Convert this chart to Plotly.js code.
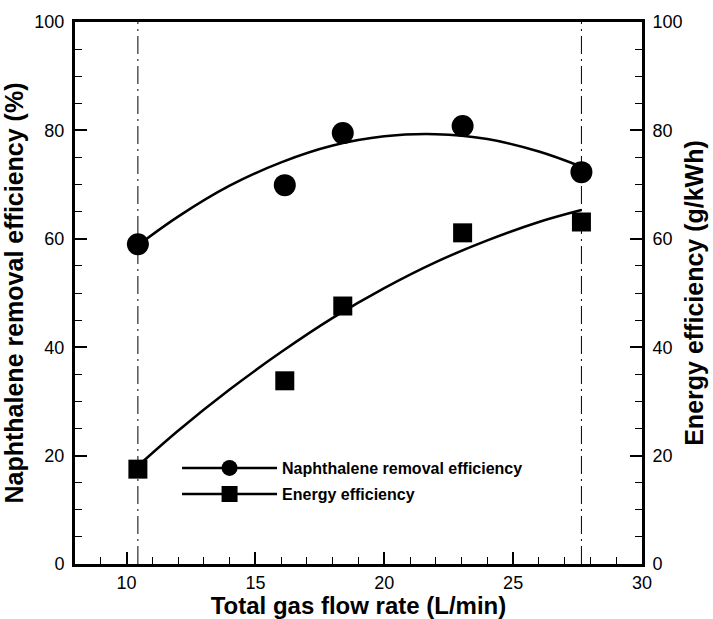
<!DOCTYPE html>
<html>
<head>
<meta charset="utf-8">
<script src="https://cdn.plot.ly/plotly-3.0.1.min.js"></script>
<style>html,body{margin:0;padding:0;background:#fff;}#chart{width:713px;height:619px;}</style>
</head>
<body>
<div id="chart"></div>
<script>
// Measured data points
var flowRate = [10.44, 16.14, 18.39, 23.04, 27.65];
var naphRemoval = [59.0, 69.9, 79.5, 80.8, 72.3];
var energyEff = [17.5, 33.8, 47.6, 61.1, 63.1];

// Fitted trend curves
var fitX = [10.44, 12.0, 14.0, 16.0, 18.0, 20.0, 22.0, 24.0, 26.0, 27.65];
var naphFitY = [58.8, 64.1, 69.8, 74.1, 77.2, 78.9, 79.3, 78.4, 76.1, 73.3];
var energyFitY = [18.1, 24.6, 32.2, 39.1, 45.4, 50.9, 55.7, 59.7, 63.1, 65.3];

// Reference lines at first and last flow rates
var refLineY = [0, 100];

var seriesNames = ['Naphthalene removal efficiency', 'Energy efficiency'];
var xTitle = 'Total gas flow rate (L/min)';
var yTitle = 'Naphthalene removal efficiency (%)';
var y2Title = 'Energy efficiency (g/kWh)';

var black = '#000000';
var dashPattern = '18px,5px,2px,5px';
var first = flowRate[0], last = flowRate[flowRate.length - 1];

var traces = [
  {x: [first, first], y: refLineY, mode: 'lines', line: {color: black, width: 1, dash: dashPattern}, showlegend: false, hoverinfo: 'skip'},
  {x: [last, last], y: refLineY, mode: 'lines', line: {color: black, width: 1, dash: dashPattern}, showlegend: false, hoverinfo: 'skip'},
  {x: fitX, y: naphFitY, mode: 'lines', line: {color: black, width: 2.5, shape: 'spline'}, showlegend: false},
  {x: fitX, y: energyFitY, mode: 'lines', yaxis: 'y2', line: {color: black, width: 2.5, shape: 'spline'}, showlegend: false},
  {x: flowRate, y: naphRemoval, mode: 'markers', marker: {symbol: 'circle', size: 22, color: black}, showlegend: false},
  {x: flowRate, y: energyEff, mode: 'markers', yaxis: 'y2', marker: {symbol: 'square', size: 19, color: black}, showlegend: false},
  {x: [null], y: [null], name: seriesNames[0], mode: 'lines+markers', legend: 'legend', line: {color: black, width: 2.5}, marker: {symbol: 'circle', size: 20, color: black}},
  {x: [null], y: [null], name: seriesNames[1], mode: 'lines+markers', legend: 'legend2', yaxis: 'y2', line: {color: black, width: 2.5}, marker: {symbol: 'square', size: 18, color: black}}
];

var tickFont = {family: 'Liberation Sans, Arial, sans-serif', size: 18, color: black};
var titleFont = {family: 'Liberation Sans, Arial, sans-serif', size: 25, color: black, weight: 'bold'};
var xTitleFont = {family: 'Liberation Sans, Arial, sans-serif', size: 24, color: black, weight: 'bold'};
var legendFont = {family: 'Liberation Sans, Arial, sans-serif', size: 16, color: black, weight: 'bold'};

var layout = {
  width: 713, height: 619,
  margin: {l: 75, r: 71, t: 22, b: 55, pad: 0},
  paper_bgcolor: '#fff', plot_bgcolor: '#fff',
  showlegend: true,
  xaxis: {
    range: [8, 30], dtick: 5, tick0: 0,
    showgrid: false, zeroline: false,
    showline: true, linecolor: black, linewidth: 3, mirror: true,
    ticks: 'inside', ticklen: 12, tickwidth: 2, tickcolor: black,
    minor: {dtick: 1, ticks: 'inside', ticklen: 7, tickwidth: 1, tickcolor: black, showgrid: false},
    tickfont: tickFont, ticklabelstandoff: 0,
    title: {text: xTitle, font: xTitleFont, standoff: 2}
  },
  yaxis: {
    range: [0, 100], dtick: 20,
    showgrid: false, zeroline: false,
    showline: true, linecolor: black, linewidth: 3, mirror: false,
    ticks: 'inside', ticklen: 12, tickwidth: 2, tickcolor: black,
    minor: {dtick: 5, ticks: 'inside', ticklen: 7, tickwidth: 1, tickcolor: black, showgrid: false},
    tickfont: tickFont, ticklabelstandoff: 4,
    title: {text: yTitle, font: titleFont, standoff: 4}
  },
  yaxis2: {
    range: [0, 100], dtick: 20, overlaying: 'y', side: 'right',
    showgrid: false, zeroline: false,
    showline: true, linecolor: black, linewidth: 3,
    ticks: 'inside', ticklen: 12, tickwidth: 2, tickcolor: black,
    minor: {dtick: 5, ticks: 'inside', ticklen: 7, tickwidth: 1, tickcolor: black, showgrid: false},
    tickfont: tickFont, ticklabelstandoff: 4,
    title: {text: y2Title, font: titleFont, standoff: 4}
  },
  legend: {x: 0.18, y: 0.177, xanchor: 'left', yanchor: 'middle', bgcolor: 'rgba(0,0,0,0)', borderwidth: 0, font: legendFont, itemwidth: 95},
  legend2: {x: 0.18, y: 0.129, xanchor: 'left', yanchor: 'middle', bgcolor: 'rgba(0,0,0,0)', borderwidth: 0, font: legendFont, itemwidth: 95}
};

Plotly.newPlot('chart', traces, layout, {displayModeBar: false, staticPlot: true});
</script>
</body>
</html>
